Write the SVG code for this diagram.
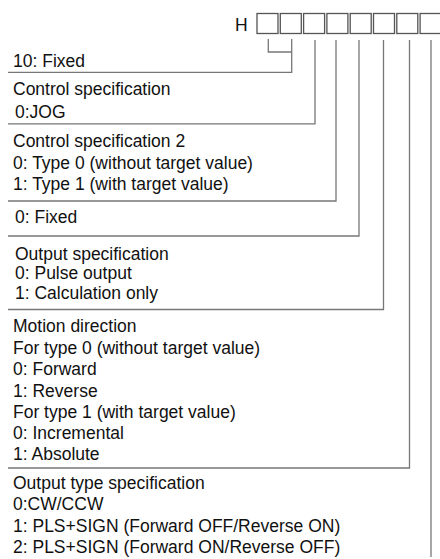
<svg xmlns="http://www.w3.org/2000/svg" width="440" height="559" viewBox="0 0 440 559">
<style>
text{font-family:"Liberation Sans",Arial,sans-serif;font-size:17.5px;fill:#111}
.box{fill:none;stroke:#555;stroke-width:1.3}
.ln{fill:none;stroke:#777;stroke-width:1.3}
</style>
<rect width="440" height="559" fill="#fff"/>
<g id="code">
<text x="235" y="31">H</text>
<rect class="box" x="257" y="13.5" width="21" height="20"/>
<rect class="box" x="280.3" y="13.5" width="21" height="20"/>
<rect class="box" x="303.6" y="13.5" width="21" height="20"/>
<rect class="box" x="326.9" y="13.5" width="21" height="20"/>
<rect class="box" x="350.2" y="13.5" width="21" height="20"/>
<rect class="box" x="373.5" y="13.5" width="21" height="20"/>
<rect class="box" x="396.8" y="13.5" width="21" height="20"/>
<rect class="box" x="420.1" y="13.5" width="21" height="20"/>
</g>
<g id="connectors">
<polyline class="ln" points="268.3,39 268.3,52 291.7,52"/>
<polyline class="ln" points="291.7,39 291.7,72.3 8,72.3"/>
<polyline class="ln" points="315,40 315,123.8 8,123.8"/>
<polyline class="ln" points="336,40 336,201 8,201"/>
<polyline class="ln" points="359,40 359,236 8,236"/>
<polyline class="ln" points="383.5,40 383.5,309.5 8,309.5"/>
<polyline class="ln" points="409.5,40 409.5,468 8,468"/>
<polyline class="ln" points="431,40 431,557"/>
</g>
<g id="n1"><text x="13" y="66.5">10: Fixed</text></g>
<g id="n2"><text x="13" y="94.5">Control specification</text><text x="15" y="117.5">0:JOG</text></g>
<g id="n3"><text x="13" y="147">Control specification 2</text><text x="13" y="168.5">0: Type 0 (without target value)</text><text x="13" y="190">1: Type 1 (with target value)</text></g>
<g id="n4"><text x="15" y="223">0: Fixed</text></g>
<g id="n5"><text x="15" y="260">Output specification</text><text x="15" y="279">0: Pulse output</text><text x="15" y="299">1: Calculation only</text></g>
<g id="n6"><text x="13" y="332">Motion direction</text><text x="13" y="353.5">For type 0 (without target value)</text><text x="13" y="375">0: Forward</text><text x="13" y="396.5">1: Reverse</text><text x="13" y="417.5">For type 1 (with target value)</text><text x="13" y="439">0: Incremental</text><text x="13" y="460">1: Absolute</text></g>
<g id="n7"><text x="13" y="489">Output type specification</text><text x="13" y="510">0:CW/CCW</text><text x="13" y="531.5">1: PLS+SIGN (Forward OFF/Reverse ON)</text><text x="13" y="552.5">2: PLS+SIGN (Forward ON/Reverse OFF)</text></g>
</svg>
